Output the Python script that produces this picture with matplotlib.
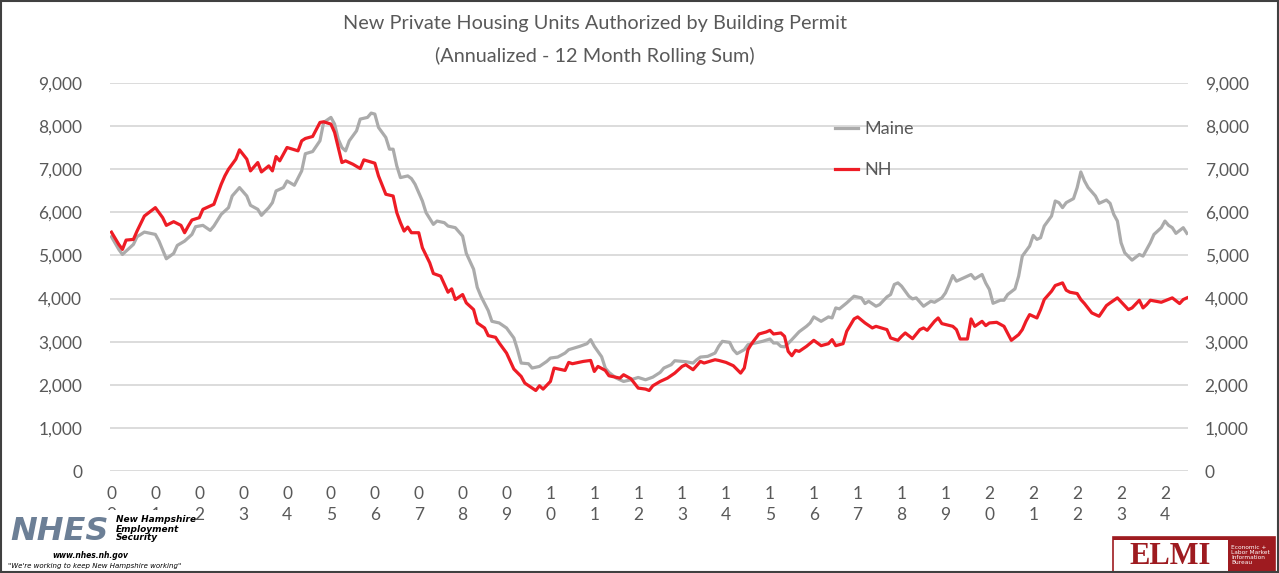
import numpy as np
import matplotlib
matplotlib.use('Agg')
from matplotlib import pyplot as plt
from matplotlib.patches import Rectangle

# months counted from Jan 2000
nh_month = [0, 2, 3, 4, 6, 7, 9, 12, 14, 15, 17, 19, 20, 21, 22, 24, 25, 28, 30, 31,
            32, 34, 35, 37, 38, 40, 41, 43, 44, 45, 46, 48, 51, 52, 53, 55, 57, 58, 60, 61,
            62, 63, 64, 66, 68, 69, 72, 73, 75, 77, 78, 79, 80, 81, 82, 84, 85, 87, 88, 90,
            92, 93, 94, 96, 97, 99, 100, 102, 103, 105, 106, 108, 110, 112, 113, 116, 117, 118, 120, 121,
            124, 125, 126, 129, 131, 132, 133, 135, 136, 139, 140, 142, 144, 146, 147, 148, 150, 152, 154, 156,
            157, 159, 161, 162, 165, 166, 168, 170, 172, 173, 174, 175, 177, 179, 180, 181, 183, 184, 185, 186,
            187, 188, 190, 192, 194, 196, 197, 198, 200, 201, 203, 204, 206, 208, 209, 212, 213, 215, 216, 217,
            219, 221, 222, 223, 225, 226, 227, 230, 231, 232, 234, 235, 236, 238, 239, 240, 242, 244, 246, 248,
            249, 250, 251, 253, 254, 255, 257, 258, 260, 261, 262, 264, 265, 266, 268, 269, 270, 272, 273, 275,
            278, 279, 281, 282, 283, 284, 287, 290, 292, 293, 294]
nh_units = [5540, 5256, 5140, 5356, 5372, 5566, 5915, 6109, 5876, 5698, 5783, 5698, 5527, 5682, 5822, 5876, 6070, 6186, 6651, 6845,
            7000, 7233, 7450, 7233, 6961, 7155, 6937, 7077, 6961, 7294, 7194, 7504, 7426, 7658, 7713, 7760, 8085, 8100, 8047, 7853,
            7504, 7155, 7194, 7116, 7016, 7217, 7140, 6845, 6419, 6379, 5993, 5760, 5565, 5658, 5527, 5527, 5178, 4830, 4581, 4520,
            4147, 4225, 3977, 4093, 3900, 3744, 3434, 3318, 3140, 3101, 2969, 2736, 2365, 2194, 2039, 1867, 1977, 1900, 2077, 2388,
            2333, 2519, 2488, 2542, 2565, 2309, 2426, 2333, 2209, 2155, 2233, 2140, 1923, 1900, 1867, 1977, 2077, 2155, 2271, 2426,
            2465, 2349, 2542, 2504, 2581, 2565, 2519, 2442, 2271, 2388, 2814, 2953, 3178, 3225, 3263, 3178, 3202, 3124, 2775, 2674,
            2798, 2775, 2891, 3031, 2907, 2953, 3047, 2907, 2953, 3240, 3527, 3574, 3434, 3318, 3356, 3279, 3086, 3031, 3124, 3202,
            3070, 3279, 3318, 3263, 3472, 3550, 3419, 3356, 3279, 3062, 3062, 3527, 3356, 3472, 3372, 3434, 3449, 3356, 3031, 3163,
            3279, 3472, 3628, 3550, 3744, 3977, 4171, 4302, 4364, 4194, 4147, 4116, 3977, 3884, 3667, 3628, 3589, 3837, 3899, 4016,
            3744, 3783, 3961, 3783, 3860, 3961, 3914, 4016, 3884, 3977, 4016]

maine_month = [0, 2, 3, 6, 7, 9, 12, 13, 15, 17, 18, 20, 22, 23, 25, 27, 28, 30, 32, 33,
               35, 37, 38, 40, 41, 43, 44, 45, 47, 48, 50, 52, 53, 55, 57, 58, 60, 61, 62, 63,
               64, 65, 67, 68, 70, 71, 72, 73, 75, 76, 77, 78, 79, 81, 82, 83, 85, 86, 88, 89,
               91, 92, 94, 96, 97, 99, 100, 101, 103, 104, 106, 108, 110, 111, 112, 114, 115, 117, 119, 120,
               122, 124, 125, 128, 130, 131, 132, 134, 135, 136, 138, 140, 142, 144, 146, 148, 150, 151, 153, 154,
               157, 159, 160, 161, 163, 165, 166, 167, 169, 170, 171, 173, 174, 176, 178, 180, 181, 182, 183, 184,
               185, 186, 187, 188, 190, 191, 192, 194, 196, 197, 198, 199, 201, 202, 203, 205, 206, 207, 209, 210,
               212, 213, 214, 215, 216, 218, 219, 220, 222, 224, 225, 227, 228, 229, 230, 231, 233, 235, 236, 238,
               239, 240, 241, 243, 244, 245, 247, 248, 249, 251, 252, 253, 254, 255, 257, 258, 259, 260, 261, 263,
               264, 265, 266, 267, 269, 270, 272, 273, 274, 275, 276, 277, 279, 281, 282, 284, 285, 287, 288, 289,
               290, 291, 293, 294]
maine_units = [5434, 5140, 5023, 5256, 5434, 5542, 5488, 5333, 4923, 5047, 5233, 5333, 5488, 5667, 5698, 5581, 5682, 5953, 6109, 6379,
               6574, 6379, 6163, 6070, 5930, 6109, 6225, 6496, 6574, 6728, 6628, 6960, 7360, 7410, 7660, 8085, 8202, 8047, 7698, 7504,
               7426, 7658, 7891, 8163, 8202, 8302, 8279, 7969, 7737, 7465, 7465, 7077, 6806, 6845, 6783, 6651, 6263, 5993, 5721, 5798,
               5760, 5682, 5644, 5449, 5050, 4680, 4260, 4054, 3720, 3472, 3434, 3318, 3086, 2814, 2504, 2488, 2388, 2426, 2542, 2620,
               2643, 2736, 2814, 2891, 2953, 3047, 2891, 2650, 2388, 2287, 2155, 2077, 2116, 2170, 2116, 2178, 2287, 2388, 2465, 2558,
               2535, 2504, 2581, 2643, 2659, 2736, 2891, 3008, 2984, 2814, 2721, 2814, 2930, 2969, 3008, 3062, 2969, 2969, 2890, 2880,
               2960, 3047, 3140, 3230, 3356, 3434, 3574, 3472, 3574, 3550, 3783, 3760, 3899, 3977, 4054, 4016, 3884, 3938, 3822, 3860,
               4039, 4093, 4326, 4364, 4287, 4054, 3992, 4016, 3822, 3938, 3914, 4016, 4132, 4326, 4535, 4403, 4481, 4558, 4457, 4558,
               4360, 4210, 3890, 3961, 3961, 4093, 4225, 4519, 4984, 5217, 5465, 5372, 5411, 5682, 5915, 6263, 6225, 6109, 6225, 6318,
               6574, 6937, 6728, 6574, 6379, 6209, 6286, 6209, 5953, 5798, 5295, 5062, 4891, 5023, 4984, 5295, 5488, 5644, 5798, 5698,
               5644, 5512, 5644, 5512]

years = list(range(2000, 2025))
y_ticks = list(range(0, 9001, 1000))

txt = '#595959'
plt.rcParams['font.family'] = ['Lato', 'DejaVu Sans']

fig = plt.figure(figsize=(12.79, 5.73), dpi=100)
ax = fig.add_axes([110 / 1279, 102 / 573, 1078 / 1279, 388 / 573])

ax.plot(maine_month, maine_units, color='#ABABAB', lw=2.3, label='Maine', solid_joinstyle='round')
ax.plot(nh_month, nh_units, color='#EE1C25', lw=2.3, label='NH', solid_joinstyle='round')

ax.set_xlim(-0.4, 294.3)
ax.set_ylim(0, 9000)
ax.set_yticks(y_ticks)
ax.set_yticklabels([f'{v:,}' for v in y_ticks])
ax.set_xticks([(y - 2000) * 12 for y in years])
ax.set_xticklabels(['\n'.join(f'{y % 100:02d}') for y in years], linespacing=1.35)
ax.grid(axis='y', color='#D9D9D9', lw=1.3)
ax.set_axisbelow(True)
for s in ax.spines.values():
    s.set_visible(False)
ax.tick_params(axis='x', length=0, pad=11, labelsize=12.5, labelcolor=txt)
ax.tick_params(axis='y', length=0, pad=20, labelsize=12.5, labelcolor=txt)

ax2 = ax.twinx()
ax2.set_ylim(0, 9000)
ax2.set_yticks(y_ticks)
ax2.set_yticklabels([f'{v:,}' for v in y_ticks])
for s in ax2.spines.values():
    s.set_visible(False)
ax2.tick_params(axis='y', length=0, pad=12, labelsize=12.5, labelcolor=txt)

ax.legend(loc='upper left', bbox_to_anchor=(835 / 1279, 1 - 121 / 573), bbox_transform=fig.transFigure,
          frameon=False, fontsize=13, handlelength=1.3, handletextpad=0.3, labelspacing=1.4,
          borderpad=0, borderaxespad=0, labelcolor=txt)

fig.text(595 / 1279, 1 - 23 / 573, 'New Private Housing Units Authorized by Building Permit',
         ha='center', va='center', fontsize=14.3, color=txt)
fig.text(595 / 1279, 1 - 56 / 573, '(Annualized - 12 Month Rolling Sum)',
         ha='center', va='center', fontsize=14.3, color=txt)

# NHES logo (text approximation) on a white patch, covering the axis labels like the reference
fig.patches.append(Rectangle((6 / 1279, 3 / 573), 190 / 1279, 60 / 573, transform=fig.transFigure,
                             facecolor='white', edgecolor='none', zorder=5))
fig.text(10 / 1279, 1 - 532 / 573, 'NHES', ha='left', va='center', fontsize=23, fontweight='bold',
         style='italic', color='#6C7F96', family='DejaVu Sans', zorder=6)
fig.text(116 / 1279, 1 - 529 / 573, 'New Hampshire\nEmployment\nSecurity', ha='left', va='center',
         fontsize=6.5, fontweight='bold', style='italic', color='black', linespacing=1.0,
         family='DejaVu Sans', zorder=6)
fig.text(52 / 1279, 1 - 556 / 573, 'www.nhes.nh.gov', ha='left', va='center', fontsize=5.5,
         fontweight='bold', style='italic', color='black', family='DejaVu Sans', zorder=6)
fig.text(8 / 1279, 1 - 566 / 573, '"We\'re working to keep New Hampshire working"', ha='left', va='center',
         fontsize=5, style='italic', color='black', family='DejaVu Sans', zorder=6)

# ELMI logo (text approximation)
red = '#9E1B20'
fig.patches.append(Rectangle((1113 / 1279, 0), 162 / 1279, 36 / 573, transform=fig.transFigure,
                             facecolor='white', edgecolor=red, lw=1.2))
fig.patches.append(Rectangle((1113 / 1279, 33 / 573), 162 / 1279, 3 / 573, transform=fig.transFigure,
                             facecolor=red, edgecolor='none'))
fig.patches.append(Rectangle((1228 / 1279, 0), 47 / 1279, 33 / 573, transform=fig.transFigure,
                             facecolor=red, edgecolor='none'))
fig.text(1170 / 1279, 1 - 556 / 573, 'ELMI', ha='center', va='center', fontsize=22, fontweight='bold',
         color=red, family='Liberation Serif')
fig.text(1231 / 1279, 1 - 555 / 573, 'Economic +\nLabor Market\nInformation\nBureau', ha='left', va='center',
         fontsize=4.2, color='white', linespacing=1.0, family='DejaVu Sans')

# outer frame
fig.patches.append(Rectangle((0.0008, 0.001), 0.9984, 0.998, transform=fig.transFigure,
                             facecolor='none', edgecolor='#404040', lw=1.5, zorder=7))

fig.savefig('out.png', dpi=100)
